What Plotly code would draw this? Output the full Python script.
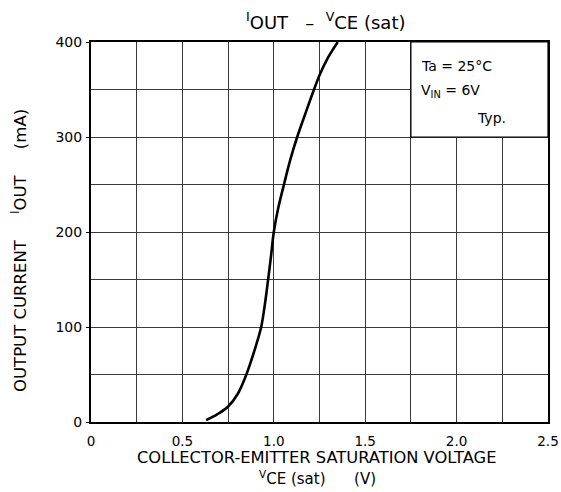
import plotly.graph_objects as go

# Data
vce = [0.63, 0.69, 0.749, 0.804, 0.844, 0.877, 0.905, 0.931, 0.952, 0.969, 0.985, 1.0,
       1.024, 1.057, 1.09, 1.128, 1.177, 1.222, 1.25, 1.295, 1.35]
iout = [2, 8, 16, 30, 47, 65, 82, 100, 125, 150, 175, 200,
        225, 251, 276, 300, 327, 351, 365, 383, 400]

x_ticks = [0, 0.5, 1.0, 1.5, 2.0, 2.5]
x_tick_labels = ["0", "0.5", "1.0", "1.5", "2.0", "2.5"]
y_ticks = [0, 100, 200, 300, 400]
y_tick_labels = ["0", "100", "200", "300", "400"]

FONT = "DejaVu Sans, sans-serif"
GRID = "#3a3a3a"
NB = "\u00a0"

fig = go.Figure()
fig.add_trace(go.Scatter(
    x=vce, y=iout, mode="lines",
    line=dict(color="black", width=2.6, shape="spline", smoothing=1.0),
    hoverinfo="skip", showlegend=False,
))

fig.update_layout(
    width=561, height=492,
    margin=dict(l=91, r=13, t=42, b=70, autoexpand=False),
    paper_bgcolor="white", plot_bgcolor="white",
    font=dict(family=FONT, size=14, color="black"),
    showlegend=False,
)

fig.update_xaxes(
    range=[0, 2.5], tickvals=x_ticks, ticktext=x_tick_labels,
    showgrid=True, gridcolor=GRID, gridwidth=1,
    minor=dict(dtick=0.25, showgrid=True, gridcolor=GRID, gridwidth=1),
    showline=True, linecolor="black", linewidth=2, mirror=True,
    ticks="", ticklabelstandoff=6, zeroline=False, automargin=False,
    ticklabeloverflow="allow", tickfont=dict(size=13.5),
)
fig.update_yaxes(
    range=[0, 400], tickvals=y_ticks, ticktext=y_tick_labels,
    showgrid=True, gridcolor=GRID, gridwidth=1,
    minor=dict(dtick=50, showgrid=True, gridcolor=GRID, gridwidth=1),
    showline=True, linecolor="black", linewidth=2, mirror=True,
    ticks="outside", ticklen=3, tickcolor="black", zeroline=False, automargin=False,
    tickfont=dict(size=14), ticklabelstandoff=1,
)

# Condition box (covers the grid in the top-right corner)
fig.add_shape(type="rect", xref="x", yref="y", x0=1.75, x1=2.5, y0=300, y1=400,
              fillcolor="white", line=dict(color="black", width=1.2), layer="above")

fig.add_annotation(xref="x", yref="y", x=1.795, y=375, xanchor="left", yanchor="middle",
                   text="Ta = 25°C", showarrow=False, font=dict(size=14))
fig.add_annotation(xref="x", yref="y", x=1.795, y=348, xanchor="left", yanchor="middle",
                   text="V<sub>IN</sub> = 6V", showarrow=False, font=dict(size=14))
fig.add_annotation(xref="x", yref="y", x=2.10, y=320, xanchor="left", yanchor="middle",
                   text="Typ.", showarrow=False, font=dict(size=14))

# Title
fig.add_annotation(xref="paper", yref="paper", x=0.514, y=1, yshift=21, xanchor="center",
                   yanchor="middle", showarrow=False,
                   text="<sup>I</sup>OUT" + NB * 3 + "–" + NB * 2 + "<sup>V</sup>CE (sat)",
                   font=dict(size=18))

# X axis title (two lines)
fig.add_annotation(xref="paper", yref="paper", x=0.4956, y=0, yshift=-35, xanchor="center",
                   yanchor="middle", showarrow=False,
                   text="COLLECTOR-EMITTER SATURATION VOLTAGE", font=dict(size=16.3))
fig.add_annotation(xref="paper", yref="paper", x=0.4956, y=0, yshift=-56, xanchor="center",
                   yanchor="middle", showarrow=False,
                   text="<sup>V</sup>CE (sat)" + NB * 6 + "(V)", font=dict(size=15))

# Y axis title
fig.add_annotation(xref="paper", yref="paper", x=0, xshift=-72, y=0.45, xanchor="center",
                   yanchor="middle", showarrow=False, textangle=-90,
                   text="OUTPUT CURRENT" + NB * 5 + "<sup>I</sup>OUT" + NB * 5 + "(mA)",
                   font=dict(size=16.5))

fig.write_html(
    "out.html",
    config={"displayModeBar": False},
    post_script="document.body.style.margin='0';document.body.style.overflow='hidden';",
)
